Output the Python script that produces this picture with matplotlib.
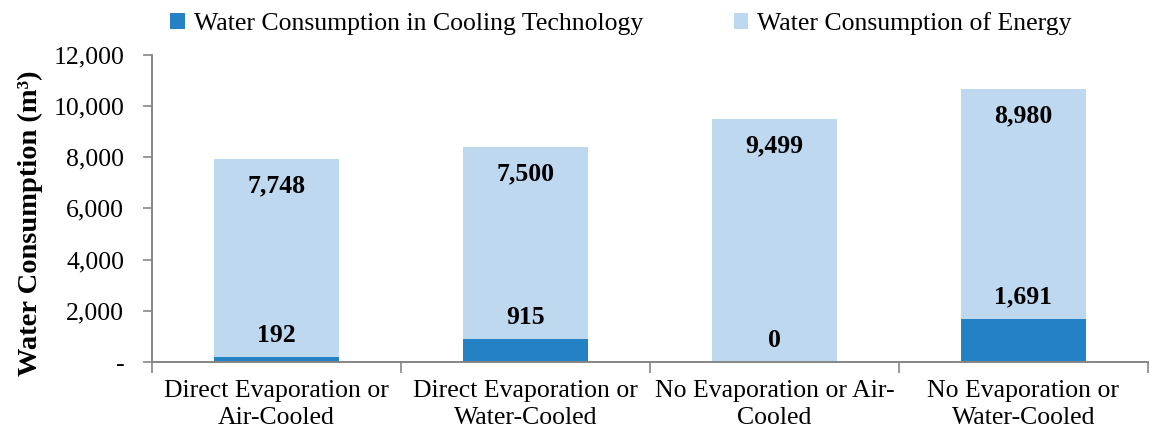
import matplotlib.pyplot as plt
from matplotlib.ticker import FuncFormatter, FixedLocator

plt.rcParams['font.family'] = ['Liberation Serif', 'DejaVu Serif']

# data
categories = ['Direct Evaporation or\nAir-Cooled', 'Direct Evaporation or\nWater-Cooled',
              'No Evaporation or Air-\nCooled', 'No Evaporation or\nWater-Cooled']
cooling = [192, 915, 0, 1691]
energy = [7748, 7500, 9499, 8980]

dark = '#2381C4'
light = '#BED8F0'
grey = '#868686'

fig = plt.figure(figsize=(11.5, 4.32), dpi=100)
ax = fig.add_axes([0.1322, 0.162, 0.866, 0.711])

x = list(range(len(categories)))
b1 = ax.bar(x, cooling, width=0.5, color=dark, label='Water Consumption in Cooling Technology')
b2 = ax.bar(x, energy, width=0.5, bottom=cooling, color=light, label='Water Consumption of Energy')

for i in x:
    ax.annotate(f'{cooling[i]:,}', (i, cooling[i]), xytext=(0, 15.5), textcoords='offset points',
                ha='center', va='center', fontsize=18.5, fontweight='bold')
    ax.annotate(f'{energy[i]:,}', (i, cooling[i] + energy[i]), xytext=(0, -19.5),
                textcoords='offset points', ha='center', va='center',
                fontsize=18.5, fontweight='bold')

ax.set_xlim(-0.5, len(categories) - 0.5)
ax.set_ylim(0, 12000)
ax.set_yticks(range(0, 12001, 2000))
ax.yaxis.set_major_formatter(FuncFormatter(lambda v, p: '-' if v == 0 else f'{int(v):,}'))
ax.set_xticks(x)
ax.set_xticklabels(categories, fontsize=18.5, linespacing=1.3)
ax.xaxis.set_minor_locator(FixedLocator([i - 0.5 for i in range(len(categories) + 1)]))
ax.tick_params(axis='x', which='major', length=0, pad=13)
ax.tick_params(axis='x', which='minor', length=8, color=grey, width=1.2)
ax.tick_params(axis='y', labelsize=18.5, length=6.5, color=grey, width=1.2, pad=13.5)

for s in ['top', 'right']:
    ax.spines[s].set_visible(False)
for s in ['left', 'bottom']:
    ax.spines[s].set_color(grey)
    ax.spines[s].set_linewidth(1.4)

ax.set_ylabel('Water Consumption (m³)', fontsize=20.5, fontweight='bold')
ax.yaxis.set_label_coords(-0.109, 0.453)

fig.legend(handles=[b1, b2], loc='upper center', bbox_to_anchor=(0.540, 1.025), ncol=2,
           frameon=False, fontsize=18.5, handlelength=0.55, handleheight=0.55,
           handletextpad=0.35, columnspacing=3.55)

fig.savefig('out.png', dpi=100)
